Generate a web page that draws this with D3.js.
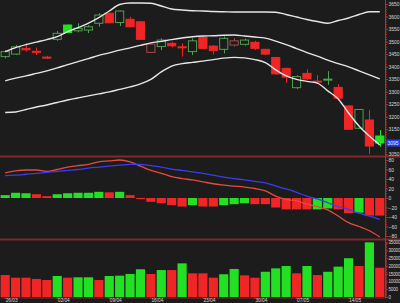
<!DOCTYPE html>
<html>
<head>
<meta charset="utf-8">
<script src="https://cdn.jsdelivr.net/npm/d3@7"></script>
<style>
  body { margin: 0; background: #1c1c1c; }
  svg { display: block; }
  .tick text { font-family: "Liberation Sans", Arial, sans-serif; font-size: 5px; fill: #d8d8d8; }
  .vol .tick text { font-size: 4.5px; letter-spacing: -0.15px; }
</style>
</head>
<body>
<div id="chart"></div>
<script>
// trading days
const dates = ["26/03","27/03","28/03","29/03","30/03",
  "02/04","03/04","04/04","05/04","06/04",
  "09/04","10/04","11/04","12/04",
  "16/04","17/04","18/04","19/04","20/04",
  "23/04","24/04","25/04","26/04","27/04",
  "30/04","01/05","02/05","03/05",
  "07/05","08/05","09/05","10/05","11/05",
  "14/05","15/05","16/05","17/05"];
const dateTicks = ["26/03","02/04","09/04","16/04","23/04","30/04","07/05","14/05"];

// OHLC
const open  = [3440,3450,3473,3461,3438,3509,3566,3543,3546,3573,3613,3576,3589,3579,3457,3480,3493,3479,3460,3517,3482,3469,3486,3489,3497,3469,3436,3393,3316,3373,3342,3348,3317,3243,3154,3187,3123];
const high  = [3466,3486,3493,3476,3443,3542,3568,3573,3566,3613,3615,3624,3599,3581,3492,3513,3499,3493,3513,3520,3485,3520,3513,3512,3503,3471,3438,3396,3366,3389,3366,3382,3330,3245,3231,3227,3147];
const low   = [3433,3446,3460,3446,3431,3503,3533,3537,3534,3560,3573,3562,3557,3507,3455,3466,3477,3440,3446,3470,3449,3453,3480,3484,3466,3447,3368,3336,3310,3348,3333,3327,3264,3147,3152,3051,3080];
const close = [3460,3479,3467,3459,3436,3533,3536,3553,3559,3606,3575,3622,3559,3509,3490,3506,3483,3476,3503,3473,3464,3513,3503,3506,3473,3450,3371,3358,3360,3351,3340,3350,3274,3150,3229,3083,3095];

// bollinger bands
const bbUpper = [3460,3476,3488,3498,3508,3520,3540,3556,3574,3596,3622,3648,3654,3654,3653,3642,3630,3626,3623,3622,3620,3619,3618,3618,3618,3618,3617,3608,3598,3588,3580,3573,3584,3594,3608,3619,3619];
const bbMid   = [3343,3354,3363,3373,3383,3395,3408,3420,3432,3445,3455,3466,3475,3485,3495,3501,3508,3514,3519,3522,3523,3525,3526,3522,3518,3514,3502,3488,3472,3456,3442,3426,3412,3399,3383,3367,3351];
const bbLower = [3217,3219,3229,3239,3247,3257,3267,3275,3283,3291,3299,3309,3319,3331,3349,3379,3402,3412,3417,3422,3428,3434,3437,3435,3428,3416,3387,3363,3349,3341,3334,3303,3271,3215,3163,3123,3087];

// MACD
const dif  = [53,57,59,59,56,60,65,68,71,76,78,80,76,67,58,52,45,41,38,34,30,27,25,23,20,15,4,-3,-6,-13,-18,-25,-38,-52,-60,-69,-82];
const dea  = [47,48,50,52,54,56,58,60,63,65,67,69,71,71,68,65,61,58,55,52,48,44,41,38,35,32,25,19,12,4,-2,-10,-18,-24,-32,-38,-45];
const hist = [6,11,10,8,4,8,10,11,11,13,12,13,6,-1,-8,-11,-15,-18,-15,-18,-18,-15,-13,-11,-13,-13,-20,-24,-24,-24,-24,-22,-24,-32,-31,-37,-37];
const histColor = "gggrrgggggrgrrrrrrgrrgggrrrrrrggrrgrr".split("");

// volume
const volume = [14100,12400,12400,11600,10900,13500,12400,12650,12650,10900,13500,13700,14800,17800,14800,17300,17300,21600,15200,15200,12400,14600,18000,13900,12400,16200,18400,19900,15200,19900,14100,16200,19500,24900,19900,35100,18800];
const volColor = "rrrrrgrggrggggrgrgrrrggrrgggrgrgggrgr".split("");

// tick labels
const priceTicks = [3050,3100,3150,3200,3250,3300,3350,3400,3450,3500,3550,3600,3650];
const macdTicks = [-80,-60,-40,-20,0,20,40,60,80];
const volTicks = [0,5000,10000,15000,20000,25000,30000,35000];

const W = 400, H = 303, plotR = 385;
const bg = "#1c1c1c", axisCol = "#b03030", sepCol = "#7c2a2a";
const green = "#24e024", red = "#f02626";

const svg = d3.select("#chart").append("svg").attr("width", W).attr("height", H);
svg.append("rect").attr("width", W).attr("height", H).attr("fill", bg);

const x = d3.scaleBand().domain(dates).range([0, plotR]).paddingInner(0.12).paddingOuter(0.06);
const bw = x.bandwidth();
const cx = d => x(d) + bw / 2;

const yP = d3.scaleLinear().domain([3050, 3650]).range([154.3, 4]);
const yM = d3.scaleLinear().domain([-80, 80]).range([236, 160]);
const yV = d3.scaleLinear().domain([0, 35000]).range([297, 242.5]);

const defs = svg.append("defs");
[["cMain", 0, 155], ["cMacd", 158, 80], ["cVol", 241, 56]].forEach(([id, y0, h]) => {
  defs.append("clipPath").attr("id", id).append("rect")
    .attr("x", 0).attr("y", y0).attr("width", plotR).attr("height", h);
});

// ---- price panel
const candles = dates.map((d, i) => ({
  d: d, o: open[i], h: high[i], l: low[i], c: close[i],
  up: i === 0 ? true : close[i] >= close[i - 1]
}));
const cStroke = c => c.up ? (c.c > c.o ? "#4fa04f" : green) : (c.c > c.o ? "#a84a4a" : red);

const main = svg.append("g").attr("clip-path", "url(#cMain)");
main.selectAll("line.wick")
  .data(candles)
  .enter()
  .append("line")
  .attr("class", "wick")
  .attr("x1", d => Math.round(cx(d.d)) + 0.5)
  .attr("x2", d => Math.round(cx(d.d)) + 0.5)
  .attr("y1", d => yP(d.h))
  .attr("y2", d => yP(d.l))
  .attr("stroke", cStroke)
  .attr("stroke-width", 1);

main.selectAll("rect.body")
  .data(candles)
  .enter()
  .append("rect")
  .attr("class", "body")
  .attr("x", d => x(d.d) + 0.5)
  .attr("width", bw - 1)
  .attr("y", d => yP(Math.max(d.o, d.c)))
  .attr("height", d => Math.max(1, Math.abs(yP(d.o) - yP(d.c))))
  .attr("fill", d => d.c > d.o ? bg : cStroke(d))
  .attr("stroke", cStroke)
  .attr("stroke-width", 1);

const bandLine = arr => d3.line().x((v, i) => cx(dates[i])).y(v => yP(v)).curve(d3.curveMonotoneX)(arr);
[bbUpper, bbMid, bbLower].forEach(arr => {
  main.append("path").attr("d", bandLine(arr))
    .attr("fill", "none").attr("stroke", "#e6e6e6").attr("stroke-width", 1.4);
});

// ---- MACD panel
const macd = svg.append("g").attr("clip-path", "url(#cMacd)");
macd.selectAll("rect")
  .data(hist)
  .enter()
  .append("rect")
  .attr("x", (v, i) => x(dates[i]))
  .attr("width", bw)
  .attr("y", v => Math.min(yM(v), yM(0)))
  .attr("height", v => Math.max(1, Math.abs(yM(v) - yM(0))))
  .attr("fill", (v, i) => histColor[i] === "g" ? green : red);

const macdLine = d3.line().x((v, i) => cx(dates[i])).y(v => yM(v)).curve(d3.curveMonotoneX);
macd.append("path").attr("d", macdLine(dif)).attr("fill", "none").attr("stroke", "#e8493c").attr("stroke-width", 1.3);
macd.append("path").attr("d", macdLine(dea)).attr("fill", "none").attr("stroke", "#3a3cf2").attr("stroke-width", 1.3);

// ---- volume panel
const vol = svg.append("g").attr("clip-path", "url(#cVol)");
vol.selectAll("rect")
  .data(volume)
  .enter()
  .append("rect")
  .attr("x", (v, i) => x(dates[i]))
  .attr("width", bw)
  .attr("y", v => yV(v))
  .attr("height", v => yV(0) - yV(v))
  .attr("fill", (v, i) => volColor[i] === "g" ? green : red);

// ---- separators
[156.5, 239.5].forEach(y => {
  svg.append("line").attr("x1", 0).attr("x2", W).attr("y1", y).attr("y2", y)
    .attr("stroke", sepCol).attr("stroke-width", 2);
});

// ---- right axes
function styleAxis(g) {
  g.select(".domain").remove();
  g.selectAll(".tick line").attr("stroke", axisCol);
}
const ax = plotR + 0.5;
svg.append("g").attr("transform", `translate(${ax},0)`)
  .call(d3.axisRight(yP).tickValues(d3.range(3050, 3651, 10)).tickSize(1.5).tickFormat("")).call(styleAxis);
svg.append("g").attr("transform", `translate(${ax},0)`)
  .call(d3.axisRight(yP).tickValues(priceTicks).tickSize(2.5).tickPadding(0.5).tickFormat(d3.format("d"))).call(styleAxis);

svg.append("g").attr("transform", `translate(${ax},0)`)
  .call(d3.axisRight(yM).tickValues(d3.range(-80, 81, 5)).tickSize(1.5).tickFormat("")).call(styleAxis);
svg.append("g").attr("transform", `translate(${ax},0)`)
  .call(d3.axisRight(yM).tickValues(macdTicks).tickSize(2.5).tickPadding(0.5).tickFormat(d3.format("d"))).call(styleAxis);

svg.append("g").attr("transform", `translate(${ax},0)`)
  .call(d3.axisRight(yV).tickValues(d3.range(0, 35001, 1000)).tickSize(1.5).tickFormat("")).call(styleAxis);
svg.append("g").attr("class", "vol").attr("transform", `translate(${ax},0)`)
  .call(d3.axisRight(yV).tickValues(volTicks).tickSize(2.5).tickPadding(0.5).tickFormat(d3.format("d"))).call(styleAxis);

svg.append("line").attr("x1", ax).attr("x2", ax).attr("y1", 0).attr("y2", 298)
  .attr("stroke", axisCol).attr("stroke-width", 1);

// last price box
const last = close[close.length - 1];
svg.append("rect").attr("x", ax + 1).attr("y", yP(last) - 3.5).attr("width", W - ax - 1).attr("height", 7)
  .attr("fill", "#1f3ff0");
svg.append("text").attr("x", ax + 2).attr("y", yP(last))
  .attr("dy", "0.35em")
  .attr("font-family", "Liberation Sans, Arial, sans-serif").attr("font-size", "5px")
  .attr("fill", "#e8e8ff").text(d3.format("d")(last));

// ---- bottom axis
const xAxis = svg.append("g").attr("transform", "translate(0,297.5)")
  .call(d3.axisBottom(x).tickValues(dateTicks).tickSize(1.5).tickSizeOuter(0).tickPadding(0));
xAxis.select(".domain").attr("stroke", sepCol);
xAxis.selectAll(".tick line").attr("stroke", axisCol);
xAxis.selectAll(".tick text").attr("text-anchor", "start").attr("dx", "0.5").style("font-size", "4.8px");
</script>
</body>
</html>
